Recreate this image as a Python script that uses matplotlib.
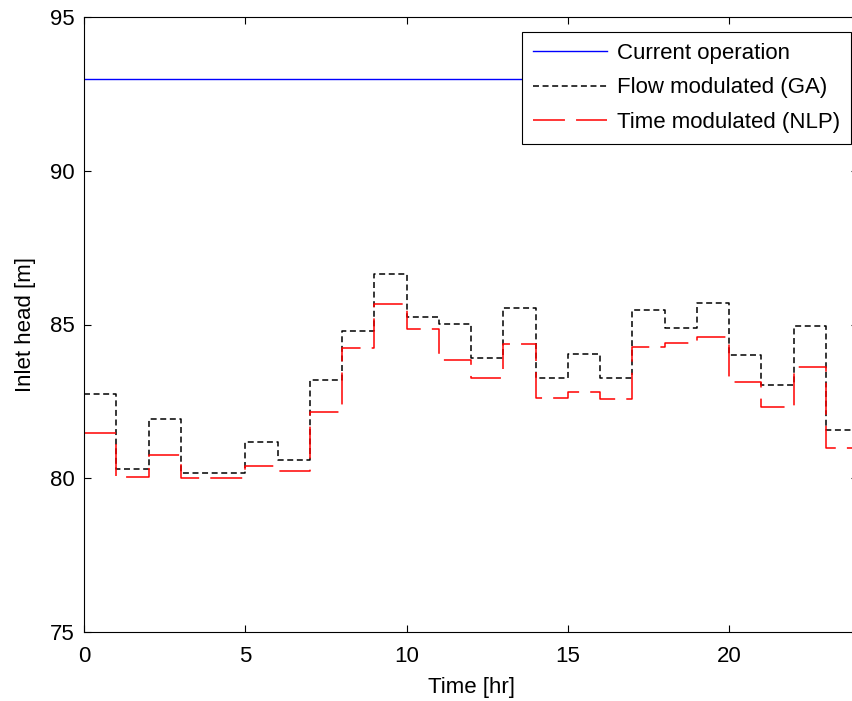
import numpy as np
import matplotlib
matplotlib.use('Agg')
import matplotlib.pyplot as plt

plt.rcParams['font.family'] = ['Liberation Sans', 'DejaVu Sans']
plt.rcParams['lines.scale_dashes'] = False

# Hourly inlet head [m] for each operating strategy
hours = np.arange(25)
current_head = 93.0
ga_head = [82.74, 80.29, 81.92, 80.16, 80.16, 81.17, 80.59, 83.19, 84.79, 86.64,
           85.23, 85.02, 83.90, 85.53, 83.25, 84.03, 83.25, 85.47, 84.90, 85.71,
           84.01, 83.02, 84.95, 81.56]
nlp_head = [81.46, 80.05, 80.75, 80.01, 80.01, 80.39, 80.23, 82.14, 84.24, 85.67,
            84.84, 83.85, 83.27, 84.36, 82.60, 82.79, 82.57, 84.26, 84.39, 84.59,
            83.14, 82.33, 83.61, 80.97]
labels = ['Current operation', 'Flow modulated (GA)', 'Time modulated (NLP)']

fig = plt.figure(figsize=(8.52, 7.01), dpi=100)
ax = fig.add_axes([84/852, 69/701, 774/852, 615/701])

ax.plot([hours[0], hours[-1]], [current_head, current_head], color='#0000ff', lw=1.0, label=labels[0])
ax.step(hours, ga_head + ga_head[-1:], where='post', color='black', lw=1.1,
        dashes=(4.3, 2.6), label=labels[1])
ax.step(hours, nlp_head + nlp_head[-1:], where='post', color='#ff0000', lw=1.1,
        dashes=(23, 8), label=labels[2])

ax.set_xlim(0, 24)
ax.set_ylim(75, 95)
ax.set_xticks([0, 5, 10, 15, 20])
ax.set_yticks([75, 80, 85, 90, 95])
ax.tick_params(direction='in', length=5, width=0.8, top=True, right=True,
               labelsize=16, pad=7)
ax.tick_params(axis='x', pad=10)
for s in ax.spines.values():
    s.set_linewidth(0.8)

ax.set_xlabel('Time [hr]', fontsize=16, labelpad=7)
ax.set_ylabel('Inlet head [m]', fontsize=16, labelpad=10)

leg = ax.legend(loc='upper right', bbox_to_anchor=(851/852, 1 - 32/701),
                bbox_transform=fig.transFigure, borderaxespad=0, fontsize=16,
                fancybox=False, framealpha=1, edgecolor='black',
                handlelength=3.3, handletextpad=0.45, labelspacing=0.6,
                borderpad=0.5)
leg.get_frame().set_linewidth(0.8)

fig.savefig('out.png', dpi=100)
